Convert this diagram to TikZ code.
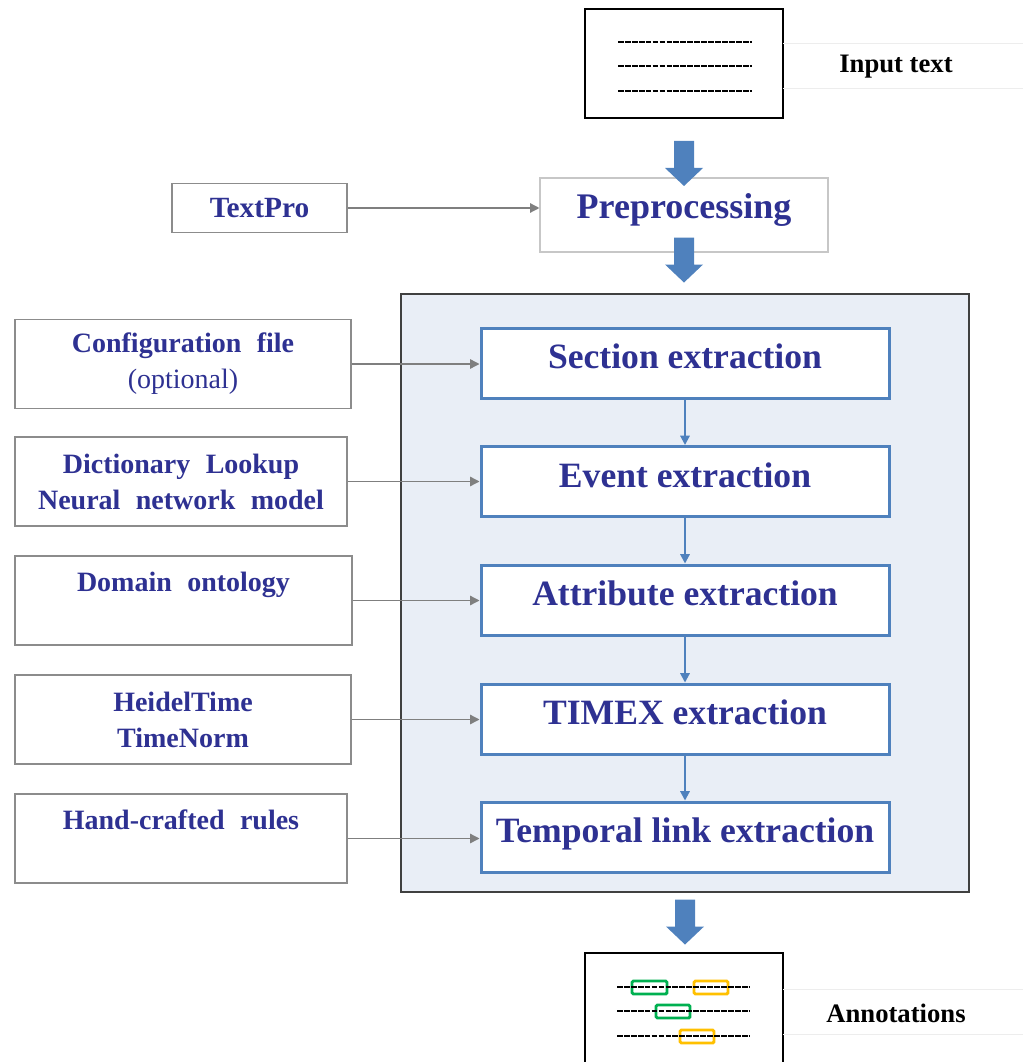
\documentclass[tikz,border=0pt]{standalone}
\usepackage{fontspec}
\setmainfont{Liberation Serif}
\newfontfamily\widefont[WordSpace=2.2]{Liberation Serif}
\usetikzlibrary{arrows.meta,calc}
\definecolor{txtblue}{HTML}{2E3192}
\definecolor{stepblue}{HTML}{4F81BD}
\definecolor{panelfill}{HTML}{E9EEF6}
\definecolor{linkgray}{HTML}{7F7F7F}
\definecolor{boxgray}{HTML}{8C8C8C}
\definecolor{tagGreen}{HTML}{00B050}
\definecolor{tagOrange}{HTML}{FFC000}

% block arrow pointing down, top centre at #1
\newcommand\blockarrow[1]{%
  \fill[stepblue] (#1) ++(-10,0) -- ++(20,0) -- ++(0,27) -- ++(9,0)
    -- ++(-19,18) -- ++(-19,-18) -- ++(9,0) -- cycle;}

\begin{document}
\begin{tikzpicture}[x=0.75pt,y=-0.75pt,
  stepbox/.style={draw=stepblue, line width=2.25pt, fill=white,
    minimum width=306pt, minimum height=52.5pt, inner sep=0pt,
    text=txtblue, font=\fontsize{26.7}{31}\selectfont\bfseries,
    text height=17.5pt, text depth=9pt},
  toolbox/.style={draw=boxgray, line width=1.1pt, fill=white,
    minimum height=66.75pt, inner sep=0pt, align=center, text=txtblue,
    font=\widefont\bfseries\fontsize{21}{27}\selectfont},
  doc/.style={draw=black, line width=1.5pt, fill=white,
    minimum width=148.5pt, inner sep=0pt},
  link/.style={draw=linkgray, line width=1pt, -{Triangle[length=7pt,width=7pt]}},
  flow/.style={draw=stepblue, line width=1.5pt, -{Triangle[length=7pt,width=7pt]}},
  textline/.style={line width=1.3pt, dash pattern=on 4.3pt off 0.9pt},
  tag/.style={line width=2.2pt, rounded corners=1pt},
  faint/.style={draw=black!7, line width=0.6pt},
  caption/.style={font=\fontsize{20}{24}\selectfont\bfseries, text=black}]
\useasboundingbox (0,0) rectangle (1023,1062);
\clip (0,0) rectangle (1023,1062);

% input document
\node[doc, minimum height=81.75pt] (input) at (684,63.5) {};
\foreach \y in {42,66,91} \draw[textline] (618,\y) -- (752,\y);
\draw[faint] (783,43) -- (1023,43) (783,88) -- (1023,88);
\node[caption] (inlabel) at (896,67) {Input text};

% preprocessing
\node[draw=black!22, line width=0.8pt, fill=white, minimum width=216pt,
  minimum height=55.5pt, inner sep=0pt, text=txtblue,
  font=\fontsize{27}{32}\selectfont\bfseries, text height=17pt, text depth=11pt]
  (prep) at (684,215) {Preprocessing};
\node[toolbox, minimum width=131.25pt, minimum height=36.75pt,
  font=\bfseries\fontsize{22}{26}\selectfont] (textpro)
  at (259.5,208) {TextPro};
\draw[link] (textpro.east) -- (textpro.east -| prep.west);

% extraction pipeline panel
\node[draw=black!75, line width=0.8pt, fill=panelfill, minimum width=426pt,
  minimum height=448.5pt, inner sep=0pt] (panel) at (685,593) {};
\node[stepbox] (sec) at (685,363) {Section extraction};
\node[stepbox] (evt) at (685,481.5) {Event extraction};
\node[stepbox] (att) at (685,600) {Attribute extraction};
\node[stepbox] (tmx) at (685,719) {TIMEX extraction};
\node[stepbox] (tlk) at (685,837) {Temporal link extraction};
\draw[flow] (sec) -- (evt);
\draw[flow] (evt) -- (att);
\draw[flow] (att) -- (tmx);
\draw[flow] (tmx) -- (tlk);

% resources
\node[toolbox, minimum width=252pt] (cfg) at (183,364)
  {Configuration file\\{\mdseries (optional)}};
\node[toolbox, minimum width=249pt] (dict) at (181,481.5)
  {Dictionary Lookup\\Neural network model};
\node[toolbox, minimum width=252.75pt] (onto) at (183.5,600.5)
  {Domain ontology\\[-7pt]\strut};
\node[toolbox, minimum width=252pt] (heid) at (183,719.5)
  {HeidelTime\\TimeNorm};
\node[toolbox, minimum width=249pt] (rules) at (181,838.5)
  {Hand-crafted rules\\[-7pt]\strut};
\draw[link] (cfg.east) -- (cfg.east -| sec.west);
\draw[link] (dict.east) -- (dict.east -| evt.west);
\draw[link] (onto.east) -- (onto.east -| att.west);
\draw[link] (heid.east) -- (heid.east -| tmx.west);
\draw[link] (rules.east) -- (rules.east -| tlk.west);

% annotated output document
\node[doc, minimum height=86.25pt] (annot) at (684,1010.5) {};
\draw[tag, tagGreen] (632,981) rectangle (667,994);
\draw[tag, tagOrange] (694,981) rectangle (728,994);
\draw[tag, tagGreen] (656,1005) rectangle (690,1018);
\draw[tag, tagOrange] (680,1030) rectangle (714,1043);
\foreach \y in {987,1011,1036} \draw[textline] (617,\y) -- (749,\y);
\draw[faint] (783,989) -- (1023,989) (783,1034) -- (1023,1034);
\node[caption] (outlabel) at (896,1013) {Annotations};

% block arrows between stages
\coordinate (a1) at ($(input.south)+(0,22)$);
\coordinate (a2) at ($(prep.south)+(0,-15)$);
\coordinate (a3) at ($(panel.south)+(0,7)$);
\blockarrow{a1}
\blockarrow{a2}
\blockarrow{a3}
\end{tikzpicture}
\end{document}
